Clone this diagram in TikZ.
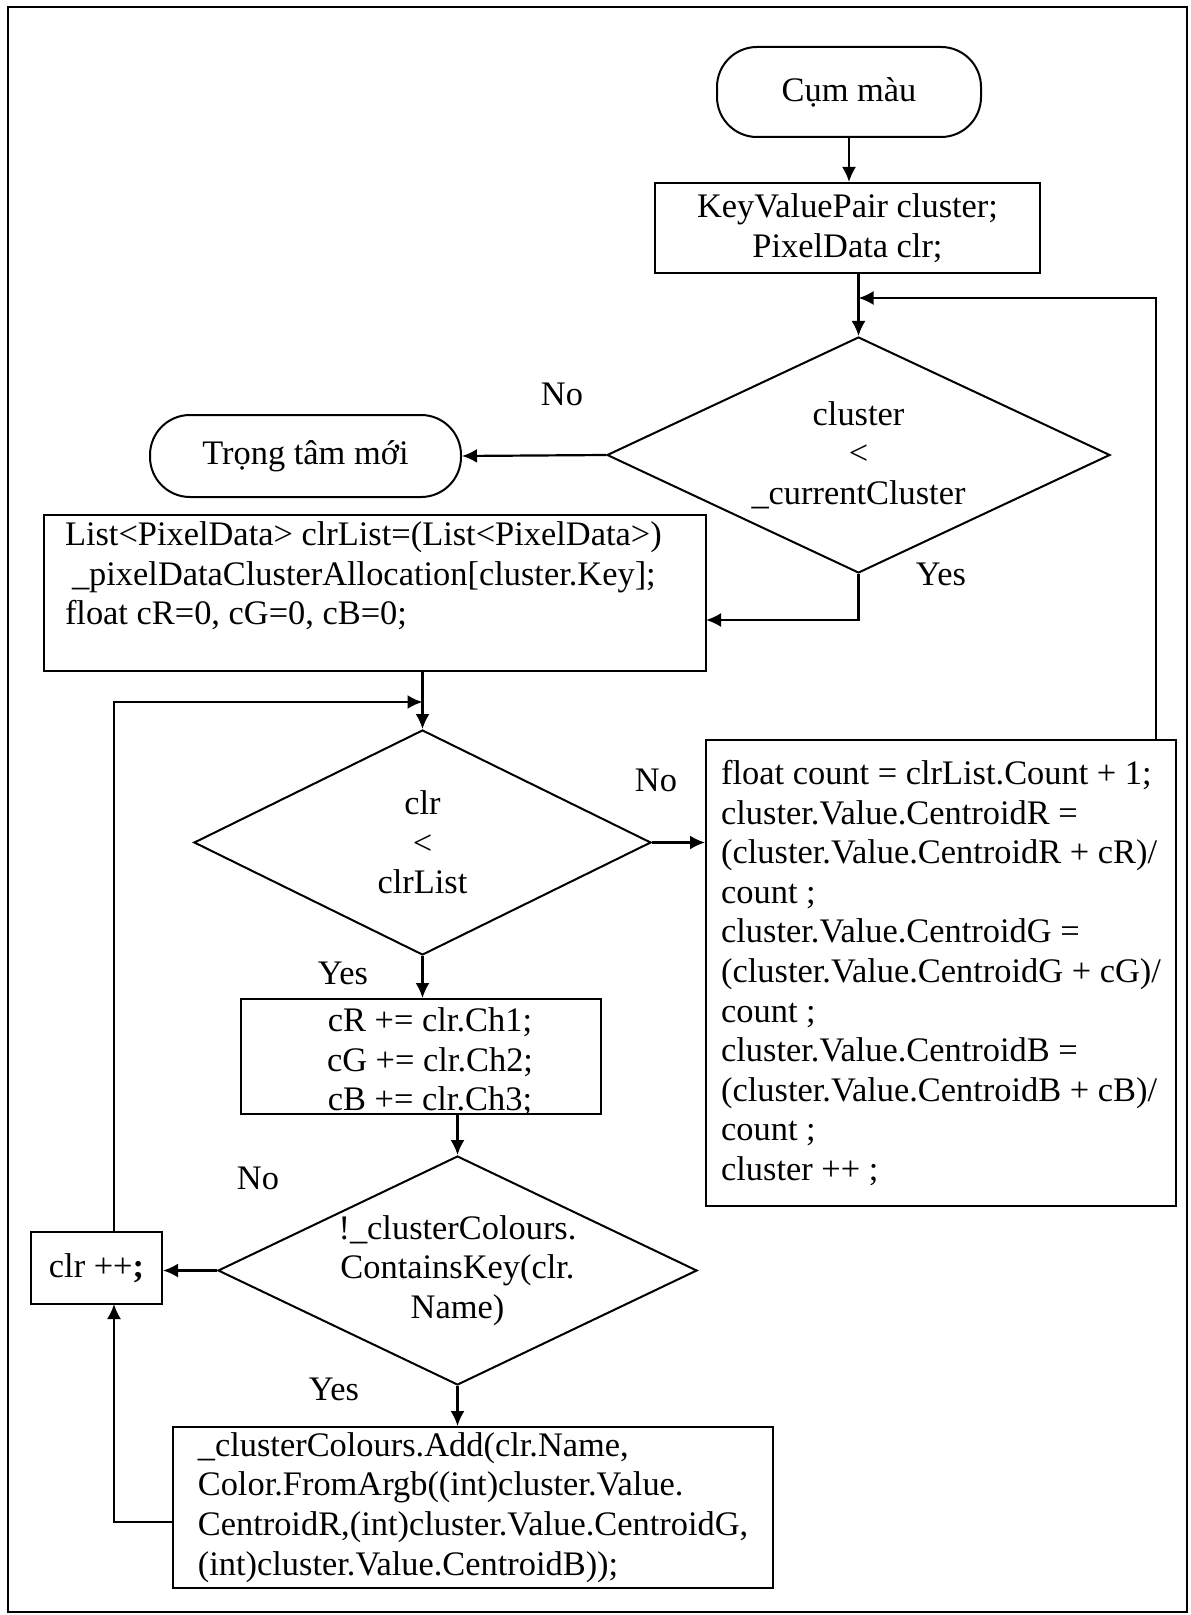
\documentclass[tikz,border=0pt]{standalone}
\usepackage{fontspec}
\setmainfont{Liberation Serif}
\usetikzlibrary{shapes.geometric,arrows.meta}

\tikzset{
  txt/.style={font=\fontsize{17.2pt}{19.8pt}\selectfont},
  term/.style={txt, draw, line width=1pt, rounded corners=20pt, align=center},
  proc/.style={txt, draw, line width=1pt, align=left},
  test/.style={txt, draw, line width=1pt, diamond, align=center, inner sep=0pt},
  arr/.style={line width=1.1pt, -{Latex[length=7.5pt,width=7pt]}},
  lbl/.style={txt}
}

\begin{document}
\begin{tikzpicture}[x=0.5pt, y=-0.5pt]
  \useasboundingbox (0,0) rectangle (1190,1615);

  % ---- outer frame ----
  \draw[line width=1pt] (7.5,7.5) rectangle (1187,1612);

  % ---- outer loop: clusters ----
  \node[term, minimum width=132pt, minimum height=45pt] (start) at (849,92) {Cụm màu};
  \node[proc, align=center, minimum width=192.5pt, minimum height=45pt] (init) at (847.5,228)
    {KeyValuePair cluster;\\PixelData clr;};
  \node[test, shape aspect=2.13, minimum width=251.5pt, minimum height=118pt] (cond1) at (858.5,455)
    {cluster\\<\\\_currentCluster};
  \node[term, minimum width=155.5pt, minimum height=41pt] (newc) at (305.5,456) {Trọng tâm mới};
  \node[proc, align=flush left, text width=310pt, inner xsep=10.5pt, minimum height=75pt] (alloc) at (375,593)
    {List<PixelData> clrList=(List<PixelData>)\\
     \hspace*{3.5pt}\_pixelDataClusterAllocation[cluster.Key];\\
     float cR=0, cG=0, cB=0;\\\mbox{}};

  % ---- inner loop: colours ----
  \node[test, shape aspect=2.03, minimum width=228.5pt, minimum height=112.5pt] (cond2) at (422.5,842.5)
    {clr\\<\\clrList};
  \node[proc, minimum width=235pt, minimum height=233pt] (upd) at (941,973)
    {float count = clrList.Count + 1;\\
     cluster.Value.CentroidR =\\
     (cluster.Value.CentroidR + cR)/\\
     count ;\\
     cluster.Value.CentroidG =\\
     (cluster.Value.CentroidG + cG)/\\
     count ;\\
     cluster.Value.CentroidB =\\
     (cluster.Value.CentroidB + cB)/\\
     count ;\\
     cluster ++ ;};
  \node[draw, line width=1pt, minimum width=180pt, minimum height=57.5pt] (accbox) at (421,1056.5) {};
  \node[txt, align=center] (acc) at (430,1062) {cR += clr.Ch1;\\cG += clr.Ch2;\\cB += clr.Ch3;};
  \node[test, shape aspect=2.09, minimum width=239.5pt, minimum height=114.5pt] (cond3) at (457.5,1270.5)
    {!\_clusterColours.\\ContainsKey(clr.\\Name)};
  \node[proc, minimum width=65.5pt, minimum height=36pt] (inc) at (96.5,1268) {clr ++\textbf{;}};
  \node[proc, inner ysep=1pt, minimum width=300pt, minimum height=80.5pt] (add) at (473,1507.5)
    {\_clusterColours.Add(clr.Name,\\
     Color.FromArgb((int)cluster.Value.\\
     CentroidR,(int)cluster.Value.CentroidG,\\
     (int)cluster.Value.CentroidB));};

  % ---- branch labels ----
  \node[lbl] (no1) at (562,394) {No};
  \node[lbl] (yes1) at (941,574) {Yes};
  \node[lbl] (no2) at (656,780) {No};
  \node[lbl] (yes2) at (343,973) {Yes};
  \node[lbl] (no3) at (258,1178) {No};
  \node[lbl] (yes3) at (334,1389) {Yes};

  % ---- bends of the connectors ----
  \coordinate (j1) at (858.5,298);
  \coordinate (uR) at (1156,740);
  \coordinate (a1) at (706,620);
  \coordinate (j2) at (422.5,702);
  \coordinate (b1) at (173,1522);
  \coordinate (b2) at (114,1304);
  \coordinate (b3) at (114,1232);

  % ---- connectors ----
  \draw[arr] (start.south) -- (start.south |- init.north);
  \draw[arr] (init.south -| cond1.north) -- (cond1.north);
  \draw[arr] (uR) |- (j1);
  \draw[arr] (cond1.west) -- (newc.east);
  \draw[arr] (cond1.south) |- (a1);
  \draw[arr] (alloc.south -| cond2.north) -- (cond2.north);
  \draw[arr] (b3) |- (j2);
  \draw[arr] (cond2.east) -- (cond2.east -| upd.west);
  \draw[arr] (cond2.south) -- (cond2.south |- accbox.north);
  \draw[arr] (accbox.south -| cond3.north) -- (cond3.north);
  \draw[arr] (cond3.west) -- (cond3.west -| inc.east);
  \draw[arr] (cond3.south) -- (cond3.south |- add.north);
  \draw[arr] (b1) -| (b2);

\end{tikzpicture}
\end{document}
